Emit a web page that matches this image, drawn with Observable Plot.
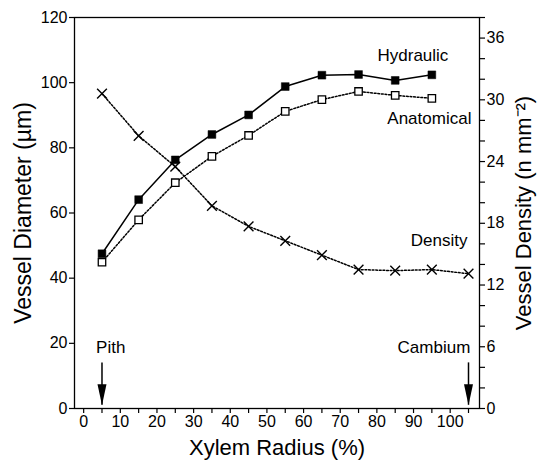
<!DOCTYPE html>
<html>
<head>
<meta charset="utf-8">
<script src="https://cdn.jsdelivr.net/npm/d3@7"></script>
<script src="https://cdn.jsdelivr.net/npm/@observablehq/plot@0.6"></script>
<style>
  html, body { margin: 0; padding: 0; background: #fff; }
  #chart svg { font-family: "Liberation Sans", Arial, Helvetica, sans-serif; }
</style>
</head>
<body>
<div id="chart"></div>
<script>
// Xylem radius (%) positions
const radius = [5, 15, 25, 35, 45, 55, 65, 75, 85, 95];
const radiusDensity = [5, 15, 25, 35, 45, 55, 65, 75, 85, 95, 105];
// Vessel diameter (µm)
const hydraulic = [47.5, 64.1, 76.3, 84.1, 90.1, 98.8, 102.3, 102.5, 100.7, 102.4];
const anatomical = [44.9, 57.9, 69.3, 77.4, 83.8, 91.2, 94.8, 97.3, 96.1, 95.2];
// Vessel density (n mm^-2)
const density = [30.6, 26.5, 23.5, 19.7, 17.7, 16.3, 14.9, 13.5, 13.4, 13.5, 13.1];

const leftTicks = [0, 20, 40, 60, 80, 100, 120];
const rightTicks = d3.range(0, 39, 2);          // minor every 2, labels every 6
const xTicks = d3.range(0, 106, 5);              // minor every 5, labels every 10

const leftMax = 120, rightMax = 38;
const k = leftMax / rightMax;                    // density -> left-axis units

const hyd = radius.map((x, i) => ({x, y: hydraulic[i]}));
const ana = radius.map((x, i) => ({x, y: anatomical[i]}));
const den = radiusDensity.map((x, i) => ({x, d: density[i]}));

const endLabels = [
  {x: 99.5, y: 108.3, text: "Hydraulic"},
  {x: 105.8, y: 89, text: "Anatomical"},
  {x: 104.7, y: 51.6, text: "Density"},
  {x: 105.5, y: 18.7, text: "Cambium"}
];
const startLabels = [
  {x: 3.4, y: 18.7, text: "Pith"}
];
const arrows = [{x: 5}, {x: 105}];

const arrowHead = {
  draw(context) {
    context.moveTo(-4.5, -21);
    context.lineTo(4.5, -21);
    context.lineTo(0, 0);
    context.closePath();
  }
};

const chart = Plot.plot({
  width: 547,
  height: 462,
  marginLeft: 74,
  marginRight: 68,
  marginTop: 17,
  marginBottom: 54,
  style: {fontFamily: '"Liberation Sans", Arial, Helvetica, sans-serif', background: "#fff", color: "#000"},
  x: {domain: [-2.5, 108]},
  y: {domain: [0, leftMax]},
  marks: [
    Plot.frame({stroke: "#000", strokeWidth: 1.3}),
    Plot.axisY({ticks: leftTicks, tickSize: 5, tickPadding: 2, fontSize: 16, label: null, strokeWidth: 1.2}),
    Plot.axisY({
      anchor: "right",
      ticks: rightTicks.map(v => v * k),
      tickFormat: v => { const d = Math.round(v / k); return d % 6 === 0 ? String(d) : ""; },
      tickSize: 5, tickPadding: 2, fontSize: 16, label: null, strokeWidth: 1.2
    }),
    Plot.axisX({
      ticks: xTicks,
      tickFormat: d => d % 10 === 0 ? String(d) : "",
      tickSize: 5, tickPadding: 2, fontSize: 16, label: null, strokeWidth: 1.2
    }),
    // Axis titles
    Plot.text(["Vessel Diameter (µm)"], {frameAnchor: "left", rotate: -90, dx: -51, text: d => d, fontSize: 23, textAnchor: "middle"}),
    Plot.text(["Vessel Density (n mm⁻²)"], {frameAnchor: "right", rotate: -90, dx: 44, text: d => d, fontSize: 22, textAnchor: "middle"}),
    Plot.text(["Xylem Radius (%)"], {frameAnchor: "bottom", dy: 39, text: d => d, fontSize: 22, lineAnchor: "middle"}),
    // Series lines
    Plot.line(hyd, {x: "x", y: "y", stroke: "#000", strokeWidth: 1.5}),
    Plot.line(ana, {x: "x", y: "y", stroke: "#000", strokeWidth: 1.5, strokeDasharray: "1.8,1.8"}),
    Plot.line(den, {x: "x", y: d => d.d * k, stroke: "#000", strokeWidth: 1.5, strokeDasharray: "1.8,1.8"}),
    // Markers
    Plot.dot(hyd, {x: "x", y: "y", symbol: "square", r: 4.4, fill: "#000", stroke: "#000", strokeWidth: 0.5}),
    Plot.dot(ana, {x: "x", y: "y", symbol: "square", r: 4.2, fill: "#fff", stroke: "#000", strokeWidth: 1.3}),
    Plot.dot(den, {x: "x", y: d => d.d * k, symbol: "times", r: 4.5, stroke: "#000", strokeWidth: 1.4}),
    // Annotations
    Plot.text(endLabels, {x: "x", y: "y", text: "text", textAnchor: "end", fontSize: 17, fill: "#000"}),
    Plot.text(startLabels, {x: "x", y: "y", text: "text", textAnchor: "start", fontSize: 17, fill: "#000"}),
    // Pith / Cambium arrows
    Plot.ruleX(arrows, {x: "x", y1: 1, y2: 14, stroke: "#000", strokeWidth: 1.5}),
    Plot.dot(arrows, {x: "x", y: 1, symbol: arrowHead, fill: "#000", stroke: "none"})
  ]
});

document.getElementById("chart").appendChild(chart);
</script>
</body>
</html>
